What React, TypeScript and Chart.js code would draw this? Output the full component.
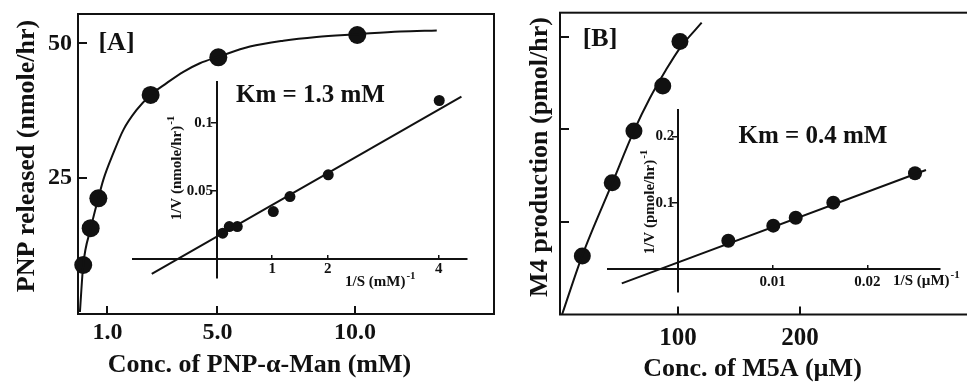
import React, { useEffect, useRef } from 'react';
import { Chart, registerables } from 'chart.js';

Chart.register(...registerables);

const FONT = "'Liberation Serif', 'Times New Roman', serif";
const INK = '#111';

// ---------- Panel A : PNP-alpha-Man ----------
const A_CONC = [0.12, 0.39, 0.67, 2.57, 5.03, 10.08];
const A_RATE = [8.75, 15.6, 21.15, 40.4, 47.4, 51.55];
const A_CURVE_X = [0, 0.12, 0.39, 0.67, 0.85, 1.21, 1.58, 2.06, 2.57, 3.15, 3.76, 4.36, 5.03, 6.18, 7.39, 8.6, 10.08, 11.64, 12.97];
const A_CURVE_Y = [0, 8.7, 15.5, 21.2, 24.6, 29.5, 33.9, 37.6, 40.4, 42.6, 44.7, 46.3, 47.5, 49.4, 50.5, 51.2, 51.7, 52.2, 52.4];
const A_X_TICKS = [1, 5, 10];
const A_Y_TICKS = [25, 50];

// inset A (Lineweaver-Burk)
const A_INV_S = [0.108, 0.227, 0.371, 1.02, 1.32, 2.01, 4.01];
const A_INV_V = [0.0189, 0.0238, 0.0238, 0.0348, 0.0458, 0.0618, 0.1164];
const A_FIT_X = [-1.17, 4.41];
const A_FIT_Y = [-0.011, 0.1193];
const A_INS_X_TICKS = [1, 2, 4];
const A_INS_Y_TICKS = [0.05, 0.1];

// ---------- Panel B : M5A ----------
const B_CONC = [21.6, 46.1, 63.9, 87.5, 101.6];
const B_RATE = [3.16, 7.12, 9.92, 12.35, 14.75];
const B_CURVE_X = [5, 21.6, 46.1, 63.9, 77, 90, 101.6, 119.4];
const B_CURVE_Y = [0, 3.2, 7.1, 9.92, 11.7, 13.2, 14.4, 15.77];
const B_X_TICKS = [100, 200];
const B_Y_TICKS = [5, 10, 15];

// inset B
const B_INV_S = [0.00531, 0.01006, 0.01243, 0.0164, 0.02503];
const B_INV_V = [0.0433, 0.0659, 0.0779, 0.1005, 0.1447];
const B_FIT_X = [-0.00594, 0.02619];
const B_FIT_Y = [-0.0208, 0.1496];
const B_INS_X_TICKS = [0.01, 0.02];
const B_INS_Y_TICKS = [0.1, 0.2];

const pts = (xs: number[], ys: number[]) => xs.map((x, i) => ({ x, y: ys[i] }));
const fixedTicks = (vals: number[]) => (scale: any) => {
  scale.ticks = vals.map((v) => ({ value: v }));
};
const fitTo = (w: number | null, h: number | null) => (s: any) => {
  if (w !== null) s.width = w;
  if (h !== null) s.height = h;
  s.paddingLeft = 0;
  s.paddingRight = 0;
  s.paddingTop = 0;
  s.paddingBottom = 0;
};
const font = (size: number) => ({ family: FONT, size, weight: 'bold' as const });

type TextItem = {
  text: string;
  sup?: string;
  x: number;
  y: number;
  size: number;
  rotate?: boolean;
  align?: 'left' | 'center';
};

function textPlugin(items: TextItem[], ox: number, oy: number) {
  return {
    id: 'texts',
    afterDraw(chart: any) {
      const ctx: CanvasRenderingContext2D = chart.ctx;
      items.forEach((it) => {
        ctx.save();
        ctx.translate(it.x - ox, it.y - oy);
        if (it.rotate) ctx.rotate(-Math.PI / 2);
        ctx.fillStyle = INK;
        ctx.textBaseline = 'middle';
        ctx.textAlign = 'left';
        const mainFont = `bold ${it.size}px ${FONT}`;
        const supSize = Math.round(it.size * 0.72);
        const supFont = `bold ${supSize}px ${FONT}`;
        ctx.font = mainFont;
        const mw = ctx.measureText(it.text).width;
        let sw = 0;
        if (it.sup) {
          ctx.font = supFont;
          sw = ctx.measureText(it.sup).width + 1;
        }
        const start = it.align === 'left' ? 0 : -(mw + sw) / 2;
        ctx.font = mainFont;
        ctx.fillText(it.text, start, 0);
        if (it.sup) {
          ctx.font = supFont;
          ctx.fillText(it.sup, start + mw + 1, -it.size * 0.38);
        }
        ctx.restore();
      });
    },
  };
}

const framePlugin = {
  id: 'frame',
  beforeDatasetsDraw(chart: any) {
    const { ctx, chartArea: a } = chart;
    ctx.save();
    ctx.strokeStyle = INK;
    ctx.lineWidth = 2;
    ctx.strokeRect(a.left, a.top, a.right - a.left, a.bottom - a.top);
    ctx.restore();
  },
};

function curveDataset(xs: number[], ys: number[]) {
  return {
    data: pts(xs, ys),
    showLine: true,
    pointRadius: 0,
    borderColor: INK,
    borderWidth: 2,
    cubicInterpolationMode: 'monotone' as const,
    fill: false,
  };
}
function dotDataset(xs: number[], ys: number[], r: number) {
  return {
    data: pts(xs, ys),
    showLine: false,
    pointRadius: r,
    pointBackgroundColor: INK,
    pointBorderWidth: 0,
    backgroundColor: INK,
    borderColor: INK,
    clip: false as const,
  };
}

const baseOptions = {
  responsive: false,
  animation: false as const,
  events: [] as any[],
  plugins: { legend: { display: false }, tooltip: { enabled: false } },
};

// ---------- configs ----------
function mainA(): any {
  return {
    type: 'scatter',
    data: {
      datasets: [curveDataset(A_CURVE_X, A_CURVE_Y), dotDataset(A_CONC, A_RATE, 9)],
    },
    options: {
      ...baseOptions,
      layout: { autoPadding: false, padding: { left: 0, top: 14, right: 6, bottom: 0 } },
      scales: {
        x: {
          type: 'linear',
          position: 'bottom',
          min: -0.07,
          max: 15.05,
          afterBuildTicks: fixedTicks(A_X_TICKS),
          afterFit: fitTo(null, 69),
          ticks: { callback: (v: any) => Number(v).toFixed(1), font: font(24), color: INK, padding: 12, autoSkip: false, maxRotation: 0, minRotation: 0 },
          grid: { drawOnChartArea: false, drawTicks: true, tickLength: -8, lineWidth: 2, color: INK },
          border: { display: false },
        },
        y: {
          type: 'linear',
          position: 'left',
          min: -0.37,
          max: 55.46,
          afterBuildTicks: fixedTicks(A_Y_TICKS),
          afterFit: fitTo(78, null),
          ticks: { callback: (v: any) => String(v), font: font(24), color: INK, padding: 15, autoSkip: false },
          grid: { drawOnChartArea: false, drawTicks: true, tickLength: -9, lineWidth: 2, color: INK },
          border: { display: false },
        },
      },
    },
    plugins: [
      framePlugin,
      textPlugin(
        [
          { text: 'PNP released (nmole/hr)', x: 27, y: 156, size: 26, rotate: true },
          { text: 'Conc. of PNP-\u03b1-Man (mM)', x: 259.5, y: 365, size: 26 },
          { text: '[A]', x: 116.5, y: 43, size: 26 },
        ],
        0,
        0
      ),
    ],
  };
}

function insetA(): any {
  return {
    type: 'scatter',
    data: {
      datasets: [curveDataset(A_FIT_X, A_FIT_Y), dotDataset(A_INV_S, A_INV_V, 5.5)],
    },
    options: {
      ...baseOptions,
      layout: { autoPadding: false, padding: { left: 13, top: 12, right: 13, bottom: 17 } },
      scales: {
        x: {
          type: 'linear',
          position: { y: 0 },
          min: -1.508,
          max: 4.51,
          afterBuildTicks: fixedTicks(A_INS_X_TICKS),
          afterFit: fitTo(null, 0),
          ticks: { callback: (v: any) => String(v), font: font(15), color: INK, padding: 6.5, autoSkip: false, maxRotation: 0, minRotation: 0 },
          grid: { drawOnChartArea: false, drawTicks: true, tickLength: -5, lineWidth: 1.5, color: INK },
          border: { display: true, width: 2, color: INK },
        },
        y: {
          type: 'linear',
          position: { x: 0 },
          min: -0.014,
          max: 0.13,
          afterBuildTicks: fixedTicks(A_INS_Y_TICKS),
          afterFit: fitTo(0, null),
          ticks: { callback: (v: any) => String(v) + ' ', font: font(15), color: INK, padding: 0, autoSkip: false },
          grid: { drawOnChartArea: false, drawTicks: true, tickLength: 5, lineWidth: 1.5, color: INK },
          border: { display: true, width: 2, color: INK },
        },
      },
    },
    plugins: [
      textPlugin(
        [
          { text: 'Km = 1.3 mM', x: 310.5, y: 96, size: 25 },
          { text: '1/V (nmole/hr)', sup: '-1', x: 177, y: 168, size: 15, rotate: true },
          { text: '1/S (mM)', sup: '-1', x: 345, y: 282, size: 15, align: 'left' },
        ],
        120,
        70
      ),
    ],
  };
}

function mainB(): any {
  return {
    type: 'scatter',
    data: {
      datasets: [curveDataset(B_CURVE_X, B_CURVE_Y), dotDataset(B_CONC, B_RATE, 8.5)],
    },
    options: {
      ...baseOptions,
      layout: { autoPadding: false, padding: { left: 0, top: 12.7, right: 1, bottom: 0 } },
      scales: {
        x: {
          type: 'linear',
          position: 'bottom',
          min: 3.3,
          max: 338.5,
          afterBuildTicks: fixedTicks(B_X_TICKS),
          afterFit: fitTo(null, 68.5),
          ticks: { callback: (v: any) => String(v), font: font(25), color: INK, padding: 17.5, autoSkip: false, maxRotation: 0, minRotation: 0 },
          grid: { drawOnChartArea: false, drawTicks: true, tickLength: -8, lineWidth: 2, color: INK },
          border: { display: false },
        },
        y: {
          type: 'linear',
          position: 'left',
          min: 0,
          max: 16.31,
          afterBuildTicks: fixedTicks(B_Y_TICKS),
          afterFit: fitTo(70, null),
          ticks: { callback: () => '', font: font(24), color: INK, padding: 15, autoSkip: false },
          grid: { drawOnChartArea: false, drawTicks: true, tickLength: -9, lineWidth: 2, color: INK },
          border: { display: false },
        },
      },
    },
    plugins: [
      framePlugin,
      textPlugin(
        [
          { text: 'M4 production (pmol/hr)', x: 540, y: 157, size: 26, rotate: true },
          { text: 'Conc. of M5A (\u00b5M)', x: 752.5, y: 369, size: 26 },
          { text: '[B]', x: 600, y: 39, size: 26 },
        ],
        490,
        0
      ),
    ],
  };
}

function insetB(): any {
  return {
    type: 'scatter',
    data: {
      datasets: [curveDataset(B_FIT_X, B_FIT_Y), dotDataset(B_INV_S, B_INV_V, 7)],
    },
    options: {
      ...baseOptions,
      layout: { autoPadding: false, padding: { left: 12.7, top: 10, right: 30, bottom: 8.3 } },
      scales: {
        x: {
          type: 'linear',
          position: { y: 0 },
          min: -0.00743,
          max: 0.02767,
          afterBuildTicks: fixedTicks(B_INS_X_TICKS),
          afterFit: fitTo(null, 0),
          ticks: { callback: (v: any) => String(v), font: font(15), color: INK, padding: 8.5, autoSkip: false, maxRotation: 0, minRotation: 0 },
          grid: { drawOnChartArea: false, drawTicks: true, tickLength: -5, lineWidth: 1.5, color: INK },
          border: { display: true, width: 2, color: INK },
        },
        y: {
          type: 'linear',
          position: { x: 0 },
          min: -0.0334,
          max: 0.2398,
          afterBuildTicks: fixedTicks(B_INS_Y_TICKS),
          afterFit: fitTo(0, null),
          ticks: { callback: (v: any) => String(v) + ' ', font: font(15), color: INK, padding: 0, autoSkip: false },
          grid: { drawOnChartArea: false, drawTicks: true, tickLength: 5, lineWidth: 1.5, color: INK },
          border: { display: true, width: 2, color: INK },
        },
      },
    },
    plugins: [
      textPlugin(
        [
          { text: 'Km = 0.4 mM', x: 813, y: 137, size: 25 },
          { text: '1/V (pmole/hr)', sup: '-1', x: 650, y: 202, size: 15, rotate: true },
          { text: '1/S (\u00b5M)', sup: '-1', x: 893, y: 281, size: 15, align: 'left' },
        ],
        595,
        100
      ),
    ],
  };
}

function ChartBox(props: { left: number; top: number; width: number; height: number; make: () => any }) {
  const ref = useRef<HTMLCanvasElement>(null);
  useEffect(() => {
    const chart = new Chart(ref.current as HTMLCanvasElement, props.make());
    return () => chart.destroy();
  }, []);
  const { left, top, width, height } = props;
  return (
    <canvas
      ref={ref}
      width={width}
      height={height}
      style={{ position: 'absolute', left, top, width, height }}
    />
  );
}

export default function App() {
  return (
    <div
      style={{
        position: 'fixed',
        left: 0,
        top: 0,
        width: 967,
        height: 383,
        overflow: 'hidden',
        background: '#fff',
      }}
    >
      <ChartBox left={0} top={0} width={500} height={383} make={mainA} />
      <ChartBox left={490} top={0} width={480} height={383} make={mainB} />
      <ChartBox left={120} top={70} width={360} height={225} make={insetA} />
      <ChartBox left={595} top={100} width={375} height={200} make={insetB} />
    </div>
  );
}
